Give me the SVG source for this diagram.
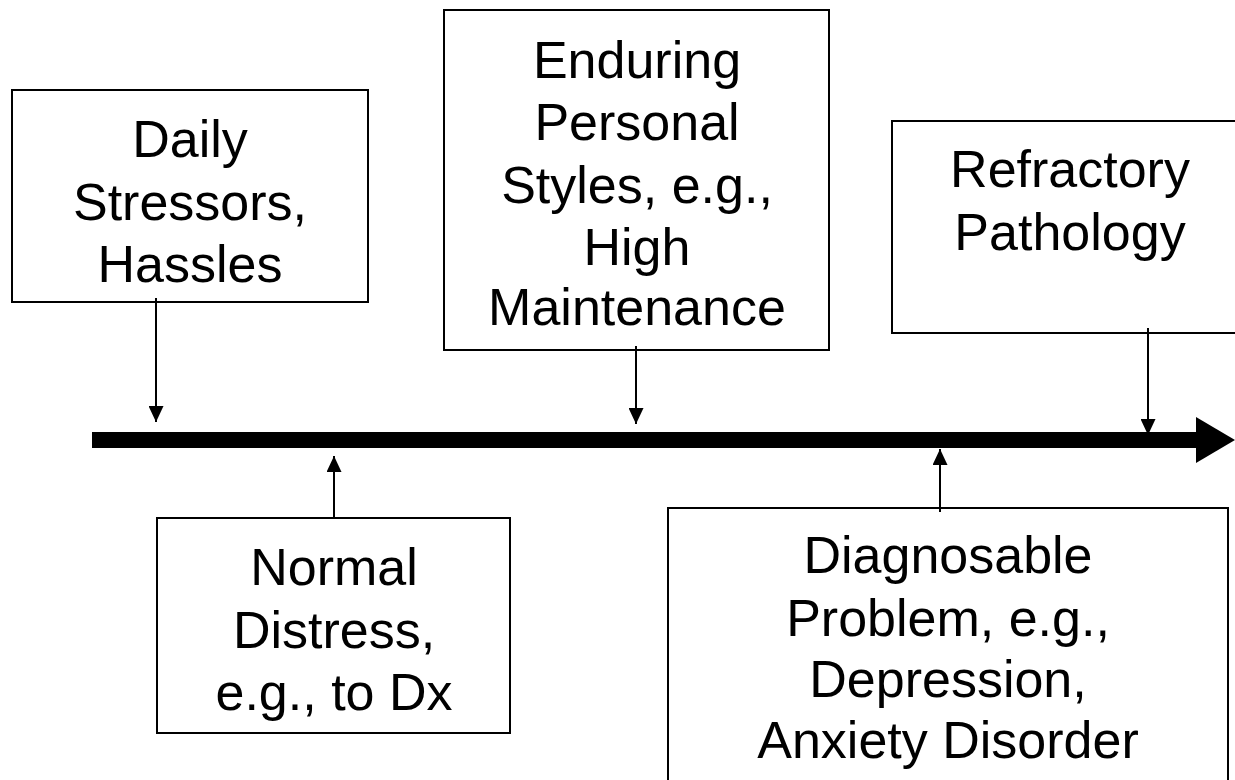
<svg xmlns="http://www.w3.org/2000/svg" width="1235" height="780" viewBox="0 0 1235 780">
<style>
.box{fill:#fff;stroke:#000;stroke-width:2}
.t{font-family:"Liberation Sans",Arial,sans-serif;font-size:52px;fill:#000;text-anchor:middle}
.c{stroke:#000;stroke-width:2;fill:none}
</style>
<defs>
<marker id="ah" viewBox="0 0 16 15" refX="16" refY="7.5" markerWidth="16" markerHeight="15" markerUnits="userSpaceOnUse" orient="auto">
<path d="M0,0 L16,7.5 L0,15 Z" fill="#000"/>
</marker>
</defs>
<rect width="1235" height="780" fill="#fff"/>
<g id="daily">
<rect class="box" x="12" y="90" width="356" height="212"/>
<text class="t" x="190" y="157">Daily</text>
<text class="t" x="190" y="220">Stressors,</text>
<text class="t" x="190" y="282">Hassles</text>
</g>
<g id="enduring">
<rect class="box" x="444" y="10" width="385" height="340"/>
<text class="t" x="637" y="78">Enduring</text>
<text class="t" x="637" y="140">Personal</text>
<text class="t" x="637" y="203">Styles, e.g.,</text>
<text class="t" x="637" y="265">High</text>
<text class="t" x="637" y="325">Maintenance</text>
</g>
<g id="refractory">
<rect class="box" x="892" y="121" width="360" height="212"/>
<text class="t" x="1070" y="187">Refractory</text>
<text class="t" x="1070" y="250">Pathology</text>
</g>
<g id="normal">
<rect class="box" x="157" y="518" width="353" height="215"/>
<text class="t" x="334" y="585">Normal</text>
<text class="t" x="334" y="648">Distress,</text>
<text class="t" x="334" y="710">e.g., to Dx</text>
</g>
<g id="diagnosable">
<rect class="box" x="668" y="508" width="560" height="290"/>
<text class="t" x="948" y="573">Diagnosable</text>
<text class="t" x="948" y="636">Problem, e.g.,</text>
<text class="t" x="948" y="697">Depression,</text>
<text class="t" x="948" y="758">Anxiety Disorder</text>
</g>
<g id="connectors">
<g id="timeline">
<rect x="92" y="432" width="1106" height="16" fill="#000"/>
<path d="M1196,417 L1235,440 L1196,463 Z" fill="#000"/>
</g>
<line class="c" x1="156" y1="298" x2="156" y2="422" marker-end="url(#ah)"/>
<line class="c" x1="636" y1="346" x2="636" y2="424" marker-end="url(#ah)"/>
<line class="c" x1="1148" y1="328" x2="1148" y2="435" marker-end="url(#ah)"/>
<line class="c" x1="334" y1="518" x2="334" y2="456" marker-end="url(#ah)"/>
<line class="c" x1="940" y1="512" x2="940" y2="449" marker-end="url(#ah)"/>
</g>
</svg>
